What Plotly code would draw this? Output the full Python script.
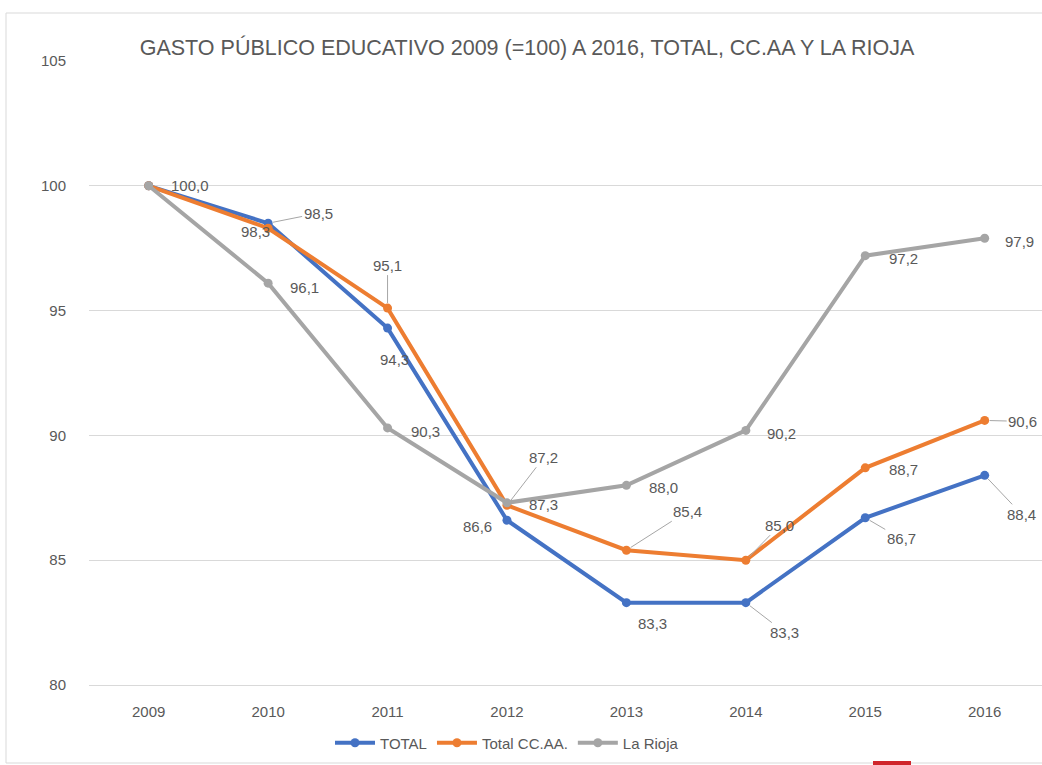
import plotly.graph_objects as go

# Public education spending index, 2009 = 100
years = ["2009", "2010", "2011", "2012", "2013", "2014", "2015", "2016"]
total = [100.0, 98.5, 94.3, 86.6, 83.3, 83.3, 86.7, 88.4]
total_ccaa = [100.0, 98.3, 95.1, 87.2, 85.4, 85.0, 88.7, 90.6]
la_rioja = [100.0, 96.1, 90.3, 87.3, 88.0, 90.2, 97.2, 97.9]
y_ticks = [80, 85, 90, 95, 100, 105]

series = [
    ("TOTAL", total, "#4472C4"),
    ("Total CC.AA.", total_ccaa, "#ED7D31"),
    ("La Rioja", la_rioja, "#A5A5A5"),
]

# Data-label placement per point: (dx, dy, leader line) in screen pixels, None = hidden
label_pos = {
    "TOTAL": [None, (50, -10, True), (7, 31, False), (-29, 6, False),
              (26, 21, False), (39, 30, True), (36, 21, True), (37, 39, True)],
    "Total CC.AA.": [None, (-13, 3, False), (0, -43, True), (37, -48, True),
                     (61, -39, True), (34, -35, True), (38, 2, False), (38, 1, True)],
    "La Rioja": [(41, 0, False), (36, 4, False), (38, 4, False), (37, 2, False),
                 (37, 2, False), (36, 3, False), (38, 3, False), (35, 3, False)],
}

W, H = 1042, 765
ML, MR, MT, MB = 89, 0, 61, 80
PW, PH = W - ML - MR, H - MT - MB

TXT = "#595959"
FONT = "Liberation Sans"

fig = go.Figure()
for name, vals, col in series:
    fig.add_trace(go.Scatter(
        x=years, y=vals, mode="lines+markers", name=name,
        line=dict(color=col, width=4),
        marker=dict(size=9, color=col),
    ))

annotations = []
for name, vals, col in series:
    for i, v in enumerate(vals):
        pos = label_pos[name][i]
        if pos is None:
            continue
        dx, dy, leader = pos
        text = f"{v:.1f}".replace(".", ",")
        # category axis: position annotations by category index
        if leader:
            annotations.append(dict(
                x=i, y=v, text=text, showarrow=True,
                ax=dx, ay=dy, arrowhead=0, arrowwidth=1,
                arrowcolor="#A6A6A6", standoff=5,
                font=dict(size=15, color=TXT, family=FONT),
            ))
        else:
            annotations.append(dict(
                x=i, y=v, text=text, showarrow=False,
                xshift=dx, yshift=-dy,
                font=dict(size=15, color=TXT, family=FONT),
            ))

def px_x(p):
    return (p - ML) / PW

def px_y(p):
    return (H - MB - p) / PH

shapes = [
    # chart frame
    dict(type="rect", xref="paper", yref="paper",
         x0=px_x(6), x1=px_x(1060), y0=px_y(763), y1=px_y(13),
         line=dict(color="#D9D9D9", width=1), fillcolor="rgba(0,0,0,0)", layer="below"),
    # small red accent at the bottom edge
    dict(type="rect", xref="paper", yref="paper",
         x0=px_x(873), x1=px_x(911), y0=px_y(765), y1=px_y(761),
         line=dict(width=0), fillcolor="#D0262C"),
]

fig.update_layout(
    width=W, height=H,
    margin=dict(l=ML, r=MR, t=MT, b=MB),
    paper_bgcolor="white", plot_bgcolor="white",
    title=dict(
        text="GASTO PÚBLICO EDUCATIVO 2009 (=100) A 2016, TOTAL, CC.AA Y LA RIOJA",
        x=527 / W, xref="container", xanchor="center",
        y=1 - 47 / H, yref="container", yanchor="middle",
        font=dict(size=21.5, color=TXT, family=FONT),
    ),
    xaxis=dict(
        type="category", range=[-0.5, 7.48], showgrid=False, zeroline=False,
        showline=True, linecolor="#D9D9D9", linewidth=1,
        tickfont=dict(size=15, color=TXT, family=FONT), ticklabelstandoff=13,
    ),
    yaxis=dict(
        range=[80, 105], tickvals=y_ticks, showgrid=True, gridcolor="#D9D9D9",
        gridwidth=1, zeroline=False, showline=False,
        tickfont=dict(size=15, color=TXT, family=FONT), ticklabelstandoff=22,
    ),
    legend=dict(
        orientation="h", x=px_x(330), xanchor="left",
        y=px_y(743), yanchor="middle",
        font=dict(size=15, color=TXT, family=FONT),
        itemwidth=40, tracegroupgap=0,
    ),
    annotations=annotations,
    shapes=shapes,
    showlegend=True,
)

fig.write_html("out.html")
